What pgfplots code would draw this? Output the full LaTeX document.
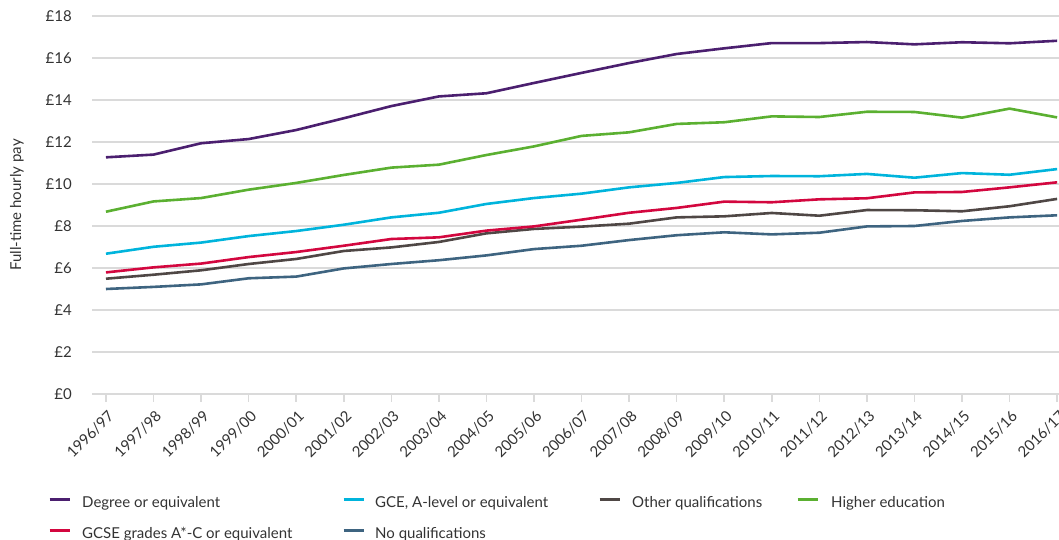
\documentclass[border=0pt]{standalone}
\usepackage{pgfplots}
\pgfplotsset{compat=1.18}
\usepackage{pgfplotstable}
\usepackage{fontspec}
\setmainfont{Lato}
\definecolor{cDegree}{HTML}{4B1F6F}
\definecolor{cGCE}{HTML}{00B4DC}
\definecolor{cOther}{HTML}{4F4745}
\definecolor{cHigher}{HTML}{5BB031}
\definecolor{cGCSE}{HTML}{D3073F}
\definecolor{cNoQual}{HTML}{3E6480}
\definecolor{gridgrey}{HTML}{DADADA}
\definecolor{textgrey}{HTML}{333333}

\pgfplotstableread{
x Degree GCE Other Higher GCSE NoQual
0  11.27 6.68  5.49 8.68  5.79  5.00
1  11.40 7.01  5.68 9.17  6.03  5.10
2  11.94 7.21  5.89 9.33  6.21  5.22
3  12.14 7.52  6.19 9.73  6.52  5.51
4  12.57 7.76  6.43 10.05 6.76  5.59
5  13.13 8.06  6.81 10.43 7.06  5.98
6  13.71 8.41  6.98 10.78 7.38  6.19
7  14.17 8.63  7.24 10.92 7.46  6.37
8  14.32 9.05  7.65 11.38 7.78  6.60
9  14.81 9.33  7.86 11.79 7.98  6.90
10 15.29 9.54  7.97 12.29 8.30  7.06
11 15.76 9.84  8.11 12.46 8.63  7.33
12 16.19 10.05 8.41 12.86 8.86  7.56
13 16.46 10.33 8.46 12.94 9.16  7.70
14 16.71 10.38 8.62 13.22 9.13  7.60
15 16.71 10.37 8.49 13.19 9.27  7.68
16 16.76 10.48 8.76 13.44 9.32  7.98
17 16.65 10.30 8.75 13.43 9.60  8.00
18 16.75 10.52 8.70 13.16 9.62  8.24
19 16.70 10.44 8.94 13.59 9.84  8.41
20 16.82 10.71 9.29 13.17 10.08 8.51
}\datatable

\begin{document}
\color{textgrey}
\begin{tikzpicture}[font=\fontsize{15pt}{17pt}\selectfont]
\useasboundingbox (0,0) rectangle (1059pt,540pt);
\begin{axis}[
  at={(92pt,146pt)}, anchor=south west,
  scale only axis, width=967pt, height=378pt,
  xmin=-0.294, xmax=20.04, ymin=0, ymax=18,
  axis line style={draw=none},
  ymajorgrids=true,
  major grid style={draw=gridgrey, line width=2pt},
  ytick={0,2,...,18},
  yticklabels={£0,£2,£4,£6,£8,£10,£12,£14,£16,£18},
  ytick style={draw=none},
  yticklabel style={anchor=east, inner sep=0pt, xshift=-12pt},
  xtick={0,...,20},
  xticklabels={1996/97,1997/98,1998/99,1999/00,2000/01,2001/02,2002/03,2003/04,2004/05,2005/06,2006/07,2007/08,2008/09,2009/10,2010/11,2011/12,2012/13,2013/14,2014/15,2015/16,2016/17},
  xtick pos=lower, ytick pos=left,
  tick align=outside, major tick length=8pt,
  xtick style={draw=gridgrey, line width=1.5pt},
  xticklabel style={yshift=-7pt, xshift=1pt, rotate=45, anchor=north east, inner sep=0pt},
  ylabel={Full-time hourly pay},
  ylabel style={at={(axis description cs:-0.0776,0.5)}, anchor=center, rotate=0},
  legend columns=4,
  legend style={draw=none, fill=none, at={(axis description cs:-0.0486,-0.2672)}, anchor=north west,
    column sep=0pt, row sep=18pt,
    nodes={inner sep=0pt, text height=10pt, text depth=3pt}},
  legend cell align=left,
  legend image code/.code={\draw[#1, line width=3pt, line cap=butt] (0pt,4pt) -- (20pt,4pt);},
  every axis plot/.append style={line width=2.6pt, line join=round},
]
\addplot[cDegree] table[x=x,y=Degree] {\datatable};
\addlegendentry{\hspace{11pt}\makebox[260pt][l]{Degree or equivalent}}
\addplot[cGCE] table[x=x,y=GCE] {\datatable};
\addlegendentry{\hspace{10pt}\makebox[223pt][l]{GCE, A-level or equivalent}}
\addplot[cOther] table[x=x,y=Other] {\datatable};
\addlegendentry{\hspace{11pt}\makebox[164pt][l]{Other qualifications}}
\addplot[cHigher] table[x=x,y=Higher] {\datatable};
\addlegendentry{\hspace{12pt}Higher education}
\addplot[cGCSE] table[x=x,y=GCSE] {\datatable};
\addlegendentry{\hspace{11pt}\makebox[260pt][l]{GCSE grades A*-C or equivalent}}
\addplot[cNoQual] table[x=x,y=NoQual] {\datatable};
\addlegendentry{\hspace{10pt}\makebox[223pt][l]{No qualifications}}
\end{axis}
\end{tikzpicture}
\end{document}
